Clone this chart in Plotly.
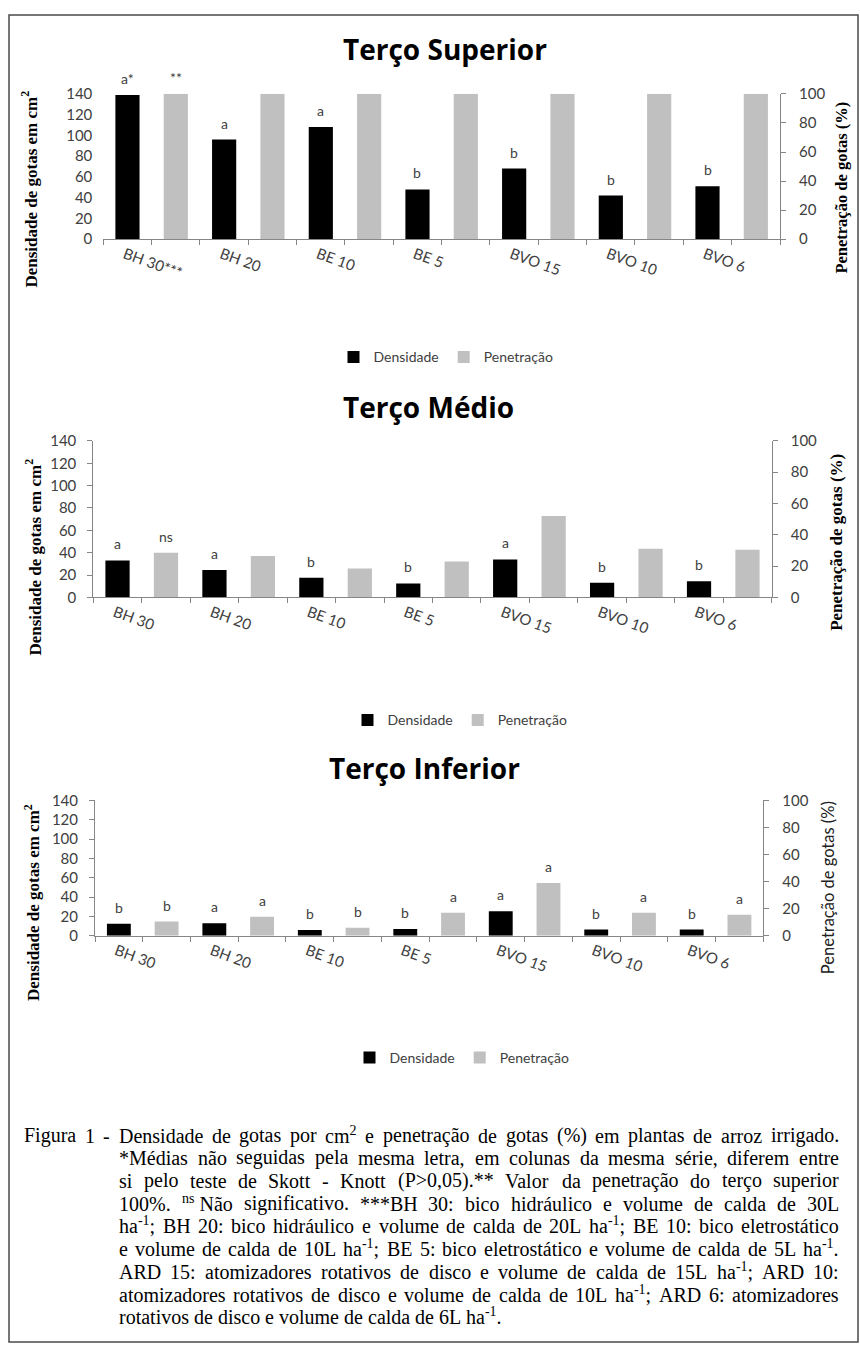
import re
import plotly.graph_objects as go

# ---------------- data ----------------
categories_sup = ["BH 30***", "BH 20", "BE 10", "BE 5", "BVO 15", "BVO 10", "BVO 6"]
categories = ["BH 30", "BH 20", "BE 10", "BE 5", "BVO 15", "BVO 10", "BVO 6"]

dens_sup = [139, 96, 108, 48, 68, 42, 51]
pen_sup = [100, 100, 100, 100, 100, 100, 100]
dens_sup_letters = ["a*", "a", "a", "b", "b", "b", "b"]
pen_sup_letters = ["**", "", "", "", "", "", ""]

dens_med = [33, 24.5, 17.5, 12.5, 34, 13, 14.5]
pen_med = [28.5, 26.5, 18.5, 23, 52, 31, 30.5]
dens_med_letters = ["a", "a", "b", "b", "a", "b", "b"]
pen_med_letters = ["ns", "", "", "", "", "", ""]

dens_inf = [12.5, 13, 6, 7, 25.5, 6.5, 6.5]
pen_inf = [10.5, 14, 6, 17, 39, 17, 15.5]
dens_inf_letters = ["b", "a", "b", "b", "a", "b", "b"]
pen_inf_letters = ["b", "a", "b", "a", "a", "a", "a"]

titles = ["Terço Superior", "Terço Médio", "Terço Inferior"]
series_names = ["Densidade", "Penetração"]
left_title = "Densidade de gotas em cm<sup>2</sup>"
right_title = "Penetração de gotas (%)"
y_left_ticks = [0, 20, 40, 60, 80, 100, 120, 140]
y_right_ticks = [0, 20, 40, 60, 80, 100]

caption_lines = [
    "Figura 1 - Densidade de gotas por cm<sup>2</sup> e penetração de gotas (%) em plantas de arroz irrigado.",
    "*Médias não seguidas pela mesma letra, em colunas da mesma série, diferem entre",
    "si pelo teste de Skott - Knott (P&gt;0,05).** Valor da penetração do terço superior",
    "100%. <sup>ns</sup>\u00a0Não significativo. ***BH 30: bico hidráulico e volume de calda de 30L",
    "ha<sup>-1</sup>; BH 20: bico hidráulico e volume de calda de 20L ha<sup>-1</sup>; BE 10: bico eletrostático",
    "e volume de calda de 10L ha<sup>-1</sup>; BE 5: bico eletrostático e volume de calda de 5L ha<sup>-1</sup>.",
    "ARD 15: atomizadores rotativos de disco e volume de calda de 15L ha<sup>-1</sup>; ARD 10:",
    "atomizadores rotativos de disco e volume de calda de 10L ha<sup>-1</sup>; ARD 6: atomizadores",
    "rotativos de disco e volume de calda de 6L ha<sup>-1</sup>.",
]

# ---------------- styling helpers ----------------
W, H = 860, 1354
def px(xp):
    return xp / W
def py(yp):
    return 1 - yp / H

BLACK = "#000000"
GRAY = "#C0C0C0"
AXIS = "#868686"
TXT = "#404040"
SANS = "Lato"
SERIF = "Liberation Serif"
CAP_SIZE = 20

# Times-compatible advance widths (per 1000 em) used to justify the caption
_TW = {" ": 250, "\u00a0": 250, "%": 833, "(": 333, ")": 333, "*": 500, ",": 250, "-": 333,
       ".": 250, ":": 278, ";": 278, ">": 564, "A": 722, "B": 667, "C": 667, "D": 722,
       "E": 611, "F": 556, "G": 722, "H": 722, "I": 333, "K": 722, "L": 611, "M": 889,
       "N": 722, "O": 722, "P": 556, "R": 667, "S": 556, "T": 611, "V": 722,
       "a": 444, "b": 500, "c": 444, "d": 500, "e": 444, "f": 333, "g": 500, "h": 500,
       "i": 278, "j": 278, "k": 500, "l": 278, "m": 778, "n": 500, "o": 500, "p": 500,
       "q": 500, "r": 333, "s": 389, "t": 278, "u": 500, "v": 500, "x": 500, "z": 444,
       "á": 444, "ã": 444, "é": 444, "ê": 444, "í": 278, "ó": 500, "ç": 444, "õ": 500}

def _chars_w(s):
    return sum(_TW.get(c, 500) for c in s) / 1000.0

def text_w(word, size):
    word = word.replace("&gt;", ">")
    w = 0.0
    for part in re.split(r"(<sup>.*?</sup>)", word):
        if part.startswith("<sup>"):
            w += 0.7 * _chars_w(part[5:-6])
        else:
            w += _chars_w(part)
    return w * size

panels = [
    dict(dens=dens_sup, pen=pen_sup, dl=dens_sup_letters, pl=pen_sup_letters, cats=categories_sup,
         x=(103.3, 780), y=(85, 232.3), title=titles[0], tpos=(445, 40),
         lt=(29, 182), rt=(842, 180), rsize=16.5, right_serif=True, left_line=False, leg=(446, 352)),
    dict(dens=dens_med, pen=pen_med, dl=dens_med_letters, pl=pen_med_letters, cats=categories,
         x=(93.3, 771.7), y=(436.7, 595.3), title=titles[1], tpos=(428, 402),
         lt=(33, 555), rt=(837, 540), rsize=17, right_serif=True, left_line=True, leg=(460, 720)),
    dict(dens=dens_inf, pen=pen_inf, dl=dens_inf_letters, pl=pen_inf_letters, cats=categories,
         x=(95, 763.3), y=(801, 938.3), title=titles[2], tpos=(424, 768),
         lt=(32, 905), rt=(828, 890), rsize=16.5, right_serif=False, left_line=True, leg=(462, 1062)),
]

fig = go.Figure()
annotations = []
layout = dict(
    width=W, height=H, margin=dict(l=0, r=0, t=0, b=0),
    paper_bgcolor="white", plot_bgcolor="white", showlegend=True,
    font=dict(family=SANS, size=14, color=TXT),
)

for k, p in enumerate(panels):
    n = len(p["cats"])
    idx = list(range(n))
    xa = "x" if k == 0 else f"x{k+1}"
    ya_l = "y" if k == 0 else f"y{2*k+1}"
    ya_r = f"y{2*k+2}"
    legname = "legend" if k == 0 else f"legend{k+1}"

    fig.add_trace(go.Bar(x=idx, y=p["dens"], xaxis=xa, yaxis=ya_l, width=0.25, offset=-0.375,
                         marker=dict(color=BLACK, line=dict(width=0)), name=series_names[0],
                         legend=legname, hoverinfo="skip"))
    fig.add_trace(go.Bar(x=idx, y=p["pen"], xaxis=xa, yaxis=ya_r, width=0.25, offset=0.125,
                         marker=dict(color=GRAY, line=dict(width=0)), name=series_names[1],
                         legend=legname, hoverinfo="skip"))

    for i in idx:
        if p["dl"][i]:
            annotations.append(dict(x=i - 0.25, y=p["dens"][i], xref=xa, yref=ya_l, text=p["dl"][i],
                                    showarrow=False, yanchor="bottom", yshift=6,
                                    font=dict(family=SANS, size=14, color=TXT)))
        if p["pl"][i]:
            annotations.append(dict(x=i + 0.25, y=p["pen"][i], xref=xa, yref=ya_r, text=p["pl"][i],
                                    showarrow=False, yanchor="bottom", yshift=6,
                                    font=dict(family=SANS, size=14, color=TXT)))

    xkey = "xaxis" if k == 0 else f"xaxis{k+1}"
    ylkey = "yaxis" if k == 0 else f"yaxis{2*k+1}"
    yrkey = f"yaxis{2*k+2}"

    layout[xkey] = dict(
        domain=[px(p["x"][0]), px(p["x"][1])], anchor=ya_l, range=[-0.5, n - 0.5],
        tickmode="array", tickvals=[i - 0.28 for i in idx], ticktext=p["cats"],
        tickangle=20, ticks="", showline=True, linecolor=AXIS, linewidth=1,
        showgrid=False, zeroline=False, tickfont=dict(family=SANS, size=15, color=TXT),
        minor=dict(tickmode="array", tickvals=[j * 0.5 - 0.5 for j in range(2 * n + 1)],
                   ticks="outside", ticklen=5, tickcolor=AXIS, tickwidth=1, showgrid=False),
        fixedrange=True,
    )
    layout[ylkey] = dict(
        domain=[py(p["y"][1]), py(p["y"][0])], anchor=xa, range=[0, 140],
        tickmode="array", tickvals=y_left_ticks,
        showline=p["left_line"], linecolor=AXIS, linewidth=1,
        ticks="outside" if p["left_line"] else "", ticklen=5, tickcolor=AXIS,
        ticklabelstandoff=8 if p["left_line"] else 10,
        showgrid=False, zeroline=False, tickfont=dict(family=SANS, size=15, color=TXT),
        fixedrange=True,
    )
    layout[yrkey] = dict(
        overlaying=ya_l, side="right", anchor=xa, range=[0, 100],
        tickmode="array", tickvals=y_right_ticks,
        showline=True, linecolor=AXIS, linewidth=1, ticks="outside", ticklen=5, tickcolor=AXIS,
        ticklabelstandoff=10,
        showgrid=False, zeroline=False, tickfont=dict(family=SANS, size=15, color=TXT),
        fixedrange=True,
    )
    layout[legname] = dict(
        orientation="h", x=px(p["leg"][0]), y=py(p["leg"][1]), xanchor="center", yanchor="middle",
        xref="paper", yref="paper", font=dict(family=SANS, size=14, color=TXT),
        itemwidth=30, bgcolor="rgba(0,0,0,0)", traceorder="normal",
    )

    annotations.append(dict(x=px(p["tpos"][0]), y=py(p["tpos"][1]), xref="paper", yref="paper",
                            text=f"<b>{p['title']}</b>", showarrow=False, xanchor="center", yanchor="middle",
                            font=dict(family="Open Sans", size=28, color="#000000")))
    annotations.append(dict(x=px(p["lt"][0]), y=py(p["lt"][1]), xref="paper", yref="paper",
                            text=f"<b>{left_title}</b>", showarrow=False, textangle=-90,
                            xanchor="center", yanchor="middle",
                            font=dict(family=SERIF, size=17, color="#000000")))
    if p["right_serif"]:
        annotations.append(dict(x=px(p["rt"][0]), y=py(p["rt"][1]), xref="paper", yref="paper",
                                text=f"<b>{right_title}</b>", showarrow=False, textangle=-90,
                                xanchor="center", yanchor="middle",
                                font=dict(family=SERIF, size=p["rsize"], color="#000000")))
    else:
        annotations.append(dict(x=px(p["rt"][0]), y=py(p["rt"][1]), xref="paper", yref="paper",
                                text=right_title, showarrow=False, textangle=-90,
                                xanchor="center", yanchor="middle",
                                font=dict(family=SANS, size=p["rsize"], color="#202020")))

# caption, justified word by word between the margins
CAP_RIGHT = 838
for j, line in enumerate(caption_lines):
    left = 23 if j == 0 else 118
    words = line.split(" ")
    widths = [text_w(w_, CAP_SIZE) for w_ in words]
    space = text_w(" ", CAP_SIZE)
    if j < len(caption_lines) - 1 and len(words) > 1:
        gap = (CAP_RIGHT - left - sum(widths)) / (len(words) - 1)
    else:
        gap = space
    xcur = left
    for w_, ww in zip(words, widths):
        annotations.append(dict(x=px(xcur), y=py(1142 + 23 * j + 11), xref="paper", yref="paper",
                                text=w_, showarrow=False, xanchor="left", yanchor="bottom",
                                borderpad=0, font=dict(family=SERIF, size=CAP_SIZE, color="#000000")))
        xcur += ww + gap

layout["annotations"] = annotations
layout["shapes"] = [
    dict(type="rect", xref="paper", yref="paper", x0=px(9), x1=px(858), y0=py(1350), y1=py(5),
         line=dict(color="#4a4a4a", width=1.5), fillcolor="rgba(0,0,0,0)", layer="above"),
]
fig.update_layout(**layout)

fig.write_html("out.html", include_plotlyjs=True,
               config={"displayModeBar": False, "staticPlot": True},
               post_script="document.body.style.margin='0';")
